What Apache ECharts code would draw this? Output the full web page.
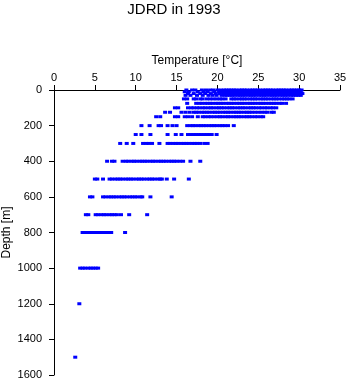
<!DOCTYPE html>
<html>
<head>
<meta charset="utf-8">
<style>
  html, body { margin: 0; padding: 0; background: #fff; }
  #chart { width: 348px; height: 384px; }
</style>
<script src="https://cdn.jsdelivr.net/npm/echarts@6/dist/echarts.min.js"></script>
</head>
<body>
<div id="chart"></div>
<script>
// Standard sampling depths (m) and the temperatures (°C) recorded at each
const depths = [0, 10, 20, 30, 50, 75, 100, 125, 150, 200, 250, 300, 400, 500, 600, 700, 800, 1000, 1200, 1500];

const temp0 = [16.2, 16.9, 17.3, 18.1, 18.6, 19.1, 19.5, 20.0, 20.4, 20.8, 21.1, 21.4, 21.7, 22.0, 22.3, 22.7, 23.0, 23.3, 23.6, 24.0, 24.3, 24.6, 24.9, 25.2, 25.6, 25.9, 26.2, 26.5, 26.8, 27.2, 27.5, 27.8, 28.1, 28.4, 28.8, 29.1, 29.4, 29.7, 30.0, 30.3];
const temp10 = [16.0, 16.5, 17.6, 18.3, 18.8, 19.6, 20.2, 20.6, 21.0, 21.3, 21.6, 21.9, 22.2, 22.5, 22.9, 23.2, 23.5, 23.8, 24.1, 24.5, 24.8, 25.1, 25.4, 25.7, 26.1, 26.4, 26.7, 27.0, 27.3, 27.7, 28.0, 28.3, 28.6, 28.9, 29.3, 29.6, 29.9, 30.2];
const temp20 = [16.4, 17.1, 17.9, 18.5, 19.2, 19.8, 20.3, 20.7, 21.0, 21.4, 21.7, 22.0, 22.4, 22.7, 23.0, 23.3, 23.7, 24.0, 24.3, 24.6, 25.0, 25.3, 25.6, 25.9, 26.3, 26.6, 26.9, 27.2, 27.6, 27.9, 28.2, 28.5, 28.9, 29.2, 29.5, 29.8, 30.1, 30.4];
const temp30 = [16.1, 16.7, 17.5, 18.2, 18.9, 19.4, 19.9, 20.5, 20.9, 21.2, 21.5, 21.8, 22.1, 22.5, 22.8, 23.1, 23.4, 23.8, 24.1, 24.4, 24.7, 25.1, 25.4, 25.7, 26.0, 26.4, 26.7, 27.0, 27.3, 27.7, 28.0, 28.3, 28.6, 29.0, 29.3, 29.6, 29.9, 30.2];
const temp50 = [15.9, 16.3, 17.1, 17.4, 17.9, 18.2, 18.7, 19.1, 19.5, 19.9, 20.3, 20.6, 21.0, 21.7, 22.0, 22.3, 22.7, 23.0, 23.3, 23.6, 24.0, 24.3, 24.6, 24.9, 25.3, 25.6, 25.9, 26.2, 26.6, 26.9, 27.2, 27.5, 27.9, 28.2, 28.5, 28.8, 29.2];
const temp75 = [16.3, 17.4, 17.8, 18.1, 18.5, 18.8, 19.1, 19.4, 19.8, 20.1, 20.4, 20.7, 21.1, 21.4, 21.7, 22.0, 22.4, 22.7, 23.0, 23.3, 23.7, 24.0, 24.3, 24.6, 25.0, 25.3, 25.6, 25.9, 26.3, 26.6, 26.9, 27.2, 27.6, 27.9, 28.4];
const temp100 = [14.8, 15.2, 16.4, 16.8, 17.1, 17.5, 17.8, 18.2, 18.5, 18.9, 19.2, 19.5, 19.9, 20.2, 20.5, 20.8, 21.2, 21.5, 21.8, 22.1, 22.5, 22.8, 23.1, 23.4, 23.8, 24.1, 24.4, 24.7, 25.1, 25.4, 25.8, 26.1, 26.5, 26.8, 27.2];
const temp125 = [13.6, 14.2, 15.6, 16.1, 16.6, 17.1, 17.4, 17.7, 18.1, 18.4, 18.7, 19.0, 19.4, 19.7, 20.0, 20.3, 20.7, 21.0, 21.3, 21.6, 22.0, 22.3, 22.6, 22.9, 23.3, 23.6, 23.9, 24.2, 24.6, 25.0, 25.4, 25.8, 26.1, 26.6, 26.9];
const temp150 = [12.5, 13.0, 14.8, 15.2, 16.0, 16.4, 16.9, 17.6, 18.2, 18.5, 18.9, 19.2, 19.6, 20.0, 20.3, 20.6, 21.0, 21.3, 21.6, 22.0, 22.3, 22.6, 22.9, 23.3, 23.6, 23.9, 24.2, 24.6, 24.9, 25.3, 25.6];
const temp200 = [10.7, 11.7, 12.8, 13.1, 13.9, 14.5, 15.0, 16.3, 16.7, 17.0, 17.3, 17.7, 18.0, 18.3, 18.6, 19.0, 19.3, 19.6, 19.9, 20.3, 20.6, 20.9, 21.3, 22.0];
const temp250 = [10.0, 10.7, 11.8, 13.9, 14.9, 15.6, 16.4, 16.7, 17.1, 17.4, 17.7, 18.0, 18.4, 18.7, 19.0, 19.3, 19.9];
const temp300 = [8.1, 8.9, 9.7, 10.9, 11.3, 11.6, 12.0, 12.9, 13.9, 14.2, 14.6, 14.9, 15.2, 15.6, 15.9, 16.2, 16.5, 16.9, 17.2, 17.5, 17.9, 18.4, 18.8];
const temp400 = [6.5, 7.1, 7.4, 8.4, 8.8, 9.1, 9.5, 9.8, 10.1, 10.5, 10.8, 11.1, 11.4, 11.8, 12.1, 12.4, 12.8, 13.1, 13.4, 13.7, 14.1, 14.4, 14.7, 15.0, 15.4, 15.8, 16.7, 17.9];
const temp500 = [5.0, 5.3, 6.0, 6.8, 7.1, 7.5, 7.8, 8.1, 8.4, 8.8, 9.1, 9.4, 9.7, 10.1, 10.4, 10.7, 11.0, 11.4, 11.7, 12.0, 12.3, 12.7, 13.0, 13.2, 13.8, 14.7, 16.5];
const temp600 = [4.4, 4.7, 6.0, 6.3, 6.7, 7.0, 7.3, 7.6, 8.0, 8.3, 8.6, 8.9, 9.3, 9.6, 9.9, 10.2, 10.6, 10.8, 11.8, 14.4];
const temp700 = [3.9, 4.2, 5.1, 5.4, 5.8, 6.1, 6.4, 6.8, 7.1, 7.4, 7.7, 8.2, 9.2, 11.4];
const temp800 = [3.5, 3.8, 4.1, 4.5, 4.8, 5.1, 5.4, 5.8, 6.1, 6.4, 6.7, 7.0, 8.7];
const temp1000 = [3.2, 3.5, 3.8, 4.2, 4.5, 4.8, 5.1, 5.4];
const temp1200 = [3.1];
const temp1500 = [2.6];

const tempsByDepth = [temp0, temp10, temp20, temp30, temp50, temp75, temp100, temp125, temp150,
  temp200, temp250, temp300, temp400, temp500, temp600, temp700, temp800, temp1000, temp1200, temp1500];

const tempTicks = [0, 5, 10, 15, 20, 25, 30, 35];
const depthTicks = [0, 200, 400, 600, 800, 1000, 1200, 1400, 1600];

const points = [];
depths.forEach(function (d, i) {
  tempsByDepth[i].forEach(function (t) { points.push([t, d]); });
});

const FONT = '"Liberation Sans", Arial, sans-serif';

const chart = echarts.init(document.getElementById('chart'), null, { renderer: 'canvas' });
chart.setOption({
  animation: false,
  backgroundColor: '#ffffff',
  title: {
    text: 'JDRD in 1993',
    left: 'center',
    top: -3,
    textStyle: { fontFamily: FONT, fontSize: 15, fontWeight: 'normal', color: '#000' }
  },
  grid: { left: 54, top: 90, right: 8, bottom: 9, containLabel: false, outerBoundsMode: 'none' },
  xAxis: {
    type: 'value',
    position: 'top',
    min: tempTicks[0],
    max: tempTicks[tempTicks.length - 1],
    interval: 5,
    name: 'Temperature [°C]',
    nameLocation: 'middle',
    nameGap: 23,
    nameMoveOverlap: false,
    nameTextStyle: { fontFamily: FONT, fontSize: 12, color: '#000' },
    axisLine: { show: true, lineStyle: { color: '#000', width: 1 } },
    axisTick: { show: true, length: 5, lineStyle: { color: '#000' } },
    axisLabel: { margin: 7, fontFamily: FONT, fontSize: 11, color: '#000' },
    splitLine: { show: false }
  },
  yAxis: {
    type: 'value',
    inverse: true,
    min: depthTicks[0],
    max: depthTicks[depthTicks.length - 1],
    interval: 200,
    name: 'Depth [m]',
    nameLocation: 'middle',
    nameGap: 41,
    nameMoveOverlap: false,
    nameTextStyle: { fontFamily: FONT, fontSize: 12, color: '#000' },
    axisLine: { show: true, lineStyle: { color: '#000', width: 1 } },
    axisTick: { show: true, length: 5, lineStyle: { color: '#000' } },
    axisLabel: {
      margin: 12, fontFamily: FONT, fontSize: 11, color: '#000',
      formatter: function (v) { return String(v); }
    },
    splitLine: { show: false }
  },
  series: [{
    type: 'scatter',
    data: points,
    symbol: 'rect',
    symbolSize: [4, 3],
    itemStyle: { color: '#0000ff', opacity: 1 },
    clip: false
  }]
});
</script>
</body>
</html>
